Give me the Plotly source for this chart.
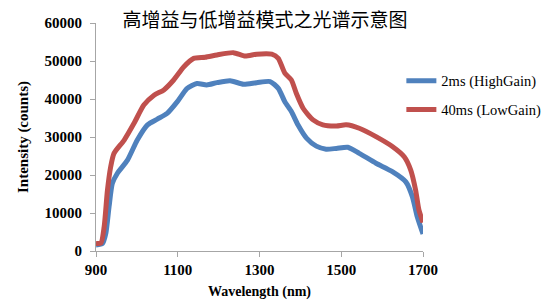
import plotly.graph_objects as go

title_text = "高增益与低增益模式之光谱示意图"
x_title = "Wavelength (nm)"
y_title = "Intensity (counts)"

high_name = "2ms (HighGain)"
high_wl = [900, 916, 924, 932, 940, 952, 977, 1001, 1026, 1050, 1074, 1099, 1123, 1147,
           1171, 1196, 1228, 1261, 1293, 1326, 1346, 1362, 1378, 1394, 1415, 1439, 1463,
           1488, 1516, 1544, 1585, 1625, 1658, 1674, 1686, 1700]
high_val = [1600, 2000, 4600, 11700, 17800, 20400, 23900, 29200, 33200, 34700, 36200, 39300,
            42800, 44100, 43700, 44300, 44800, 43900, 44300, 44600, 42800, 39300, 36700, 33200,
            29700, 27600, 26800, 27000, 27300, 25700, 23100, 20900, 18200, 14300, 9000, 4500]

low_name = "40ms (LowGain)"
low_wl = [900, 912, 920, 928, 936, 944, 969, 993, 1017, 1042, 1066, 1090, 1115, 1139, 1167,
          1196, 1236, 1265, 1293, 1330, 1346, 1362, 1378, 1390, 1407, 1431, 1455, 1488, 1512,
          1544, 1585, 1625, 1654, 1670, 1682, 1690, 1700]
low_val = [2000, 2100, 6400, 16000, 22200, 25700, 29200, 33600, 38400, 41000, 42400, 45000,
           48500, 50700, 51000, 51600, 52200, 51300, 51800, 51800, 50700, 46800, 45000, 41500,
           37500, 34500, 33200, 32900, 33200, 32300, 30100, 27500, 24800, 21300, 16000, 10800, 7500]

fig = go.Figure()
fig.add_trace(go.Scatter(x=high_wl, y=high_val, name=high_name, mode="lines", legendgroup="a",
                         line=dict(color="#4F81BD", width=5, shape="spline", smoothing=0.6)))
fig.add_trace(go.Scatter(x=low_wl, y=low_val, name=low_name, mode="lines", legendgroup="b",
                         line=dict(color="#C0504D", width=5, shape="spline", smoothing=0.6)))

serif = "Liberation Serif"
fig.update_layout(
    width=557, height=300,
    margin=dict(l=96, r=133, t=23, b=49),
    paper_bgcolor="white", plot_bgcolor="white",
    title=dict(text=title_text, x=0.476, xanchor="center", y=0.933, yanchor="middle",
               font=dict(family="Noto Sans CJK SC", size=19, color="#000000")),
    legend=dict(x=0.931, xanchor="left", y=0.817, yanchor="top",
                font=dict(family=serif, size=14.5, color="#000000"),
                tracegroupgap=7, itemwidth=30, bgcolor="rgba(0,0,0,0)"),
    showlegend=True,
)
fig.update_xaxes(range=[900, 1700], tickvals=[900, 1100, 1300, 1500, 1700], automargin=False,
                 showline=True, linecolor="#A6A6A6", linewidth=1, ticks="outside",
                 ticklen=5, tickcolor="#A6A6A6", showgrid=False, zeroline=False,
                 tickfont=dict(family=serif, size=15, color="#000000", weight="bold"),
                 title=dict(text=x_title, standoff=11,
                            font=dict(family=serif, size=14, color="#000000", weight="bold")))
fig.update_yaxes(range=[0, 60000], dtick=10000, tickformat="d", automargin=False,
                 showline=True, linecolor="#A6A6A6", linewidth=1, ticks="outside",
                 ticklen=5, tickcolor="#A6A6A6", showgrid=False, zeroline=False,
                 ticklabelstandoff=5,
                 tickfont=dict(family=serif, size=15, color="#000000", weight="bold"),
                 title=dict(text=y_title, standoff=12,
                            font=dict(family=serif, size=15, color="#000000", weight="bold")))

fig.write_html("out.html", config={"displayModeBar": False},
               post_script="document.body.style.margin='0';")
